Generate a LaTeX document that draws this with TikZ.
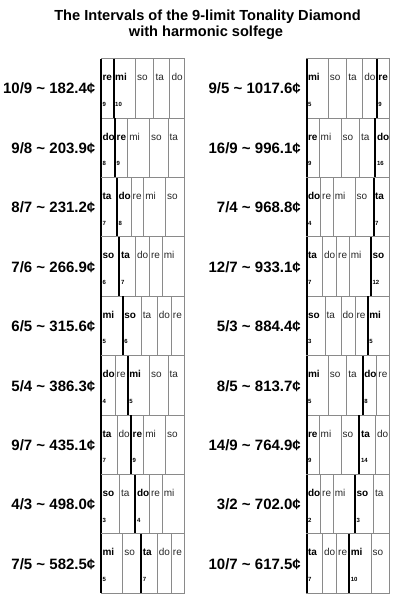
\documentclass[tikz,border=0pt]{standalone}
\usepackage{fontspec}
\setmainfont{Liberation Sans}
\definecolor{framegray}{HTML}{8A8A8A}
\def\CentsArr{{0,203.91,386.31,701.96,968.83}}
\newcommand\NoteName[1]{\ifcase#1\space do\or re\or mi\or so\or ta\fi}
\tikzset{
  cellframe/.style={draw=framegray, line width=0.9pt},
  boldline/.style={draw=black, line width=2pt},
  notebold/.style={anchor=base west, inner sep=0pt, font=\bfseries\fontsize{10}{10}\selectfont},
  notenorm/.style={anchor=base west, inner sep=0pt, text=black!85, font=\fontsize{10}{10}\selectfont},
  harm/.style={anchor=base west, inner sep=0pt, font=\bfseries\fontsize{6}{6}\selectfont},
  ratiolabel/.style={anchor=base east, inner sep=0pt, font=\bfseries\fontsize{15}{15}\selectfont},
  titletext/.style={anchor=base, inner sep=0pt, font=\bfseries\fontsize{14.6}{14.6}\selectfont},
}
% #1 id, #2 label, #3 box left x, #4 top y, #5 start note, #6 pos1, #7 num1, #8 pos2, #9 num2
\newcommand\RowBox[9]{%
  \node[ratiolabel] (lab#1) at ({#3-5.5},{#4+35.3}) {#2};
  \draw[cellframe] (#3,#4) rectangle ({#3+83},{#4+59.4});
  \foreach \i in {0,...,4}{%
    \pgfmathtruncatemacro\kidx{mod(#5+\i,5)}%
    \pgfmathsetmacro\xa{#3+mod(\CentsArr[\kidx]-\CentsArr[#5]+1200,1200)*0.0691667}%
    \ifnum\i>0 \draw[cellframe] (\xa,#4) -- (\xa,{#4+59.4});\fi
    \ifnum\i=#6\relax
      \node[notebold] (n#1-\i) at ({\xa+1.4},{#4+22}) {\NoteName{\kidx}};
      \node[harm] (h#1-\i) at ({\xa+1.4},{#4+47.5}) {#7};
    \else\ifnum\i=#8\relax
      \node[notebold] (n#1-\i) at ({\xa+1.4},{#4+22}) {\NoteName{\kidx}};
      \node[harm] (h#1-\i) at ({\xa+1.4},{#4+47.5}) {#9};
    \else
      \node[notenorm] (n#1-\i) at ({\xa+1.4},{#4+22}) {\NoteName{\kidx}};
    \fi\fi
  }%
  \pgfmathtruncatemacro\kidx{mod(#5+#6,5)}%
  \pgfmathsetmacro\xa{#3+mod(\CentsArr[\kidx]-\CentsArr[#5]+1200,1200)*0.0691667}%
  \draw[boldline] (\xa,#4) -- (\xa,{#4+59.4});
  \pgfmathtruncatemacro\kidx{mod(#5+#8,5)}%
  \pgfmathsetmacro\xa{#3+mod(\CentsArr[\kidx]-\CentsArr[#5]+1200,1200)*0.0691667}%
  \draw[boldline] (\xa,#4) -- (\xa,{#4+59.4});
}
\begin{document}
\begin{tikzpicture}[x=1pt,y=-1pt]
\useasboundingbox (0,0) rectangle (408,599);
\node[titletext] (title1) at (207.5,21) {The Intervals of the 9-limit Tonality Diamond};
\node[titletext] (title2) at (206,37) {with harmonic solfege};
% left column
\RowBox{L0}{10/9 \textasciitilde{} 182.4¢}{101}{58.7}{1}{0}{9}{1}{10}
\RowBox{L1}{9/8 \textasciitilde{} 203.9¢}{101}{118.1}{0}{0}{8}{1}{9}
\RowBox{L2}{8/7 \textasciitilde{} 231.2¢}{101}{177.5}{4}{0}{7}{1}{8}
\RowBox{L3}{7/6 \textasciitilde{} 266.9¢}{101}{236.9}{3}{0}{6}{1}{7}
\RowBox{L4}{6/5 \textasciitilde{} 315.6¢}{101}{296.3}{2}{0}{5}{1}{6}
\RowBox{L5}{5/4 \textasciitilde{} 386.3¢}{101}{355.7}{0}{0}{4}{2}{5}
\RowBox{L6}{9/7 \textasciitilde{} 435.1¢}{101}{415.1}{4}{0}{7}{2}{9}
\RowBox{L7}{4/3 \textasciitilde{} 498.0¢}{101}{474.5}{3}{0}{3}{2}{4}
\RowBox{L8}{7/5 \textasciitilde{} 582.5¢}{101}{533.9}{2}{0}{5}{2}{7}
% right column
\RowBox{R0}{9/5 \textasciitilde{} 1017.6¢}{306.5}{58.7}{2}{0}{5}{4}{9}
\RowBox{R1}{16/9 \textasciitilde{} 996.1¢}{306.5}{118.1}{1}{0}{9}{4}{16}
\RowBox{R2}{7/4 \textasciitilde{} 968.8¢}{306.5}{177.5}{0}{0}{4}{4}{7}
\RowBox{R3}{12/7 \textasciitilde{} 933.1¢}{306.5}{236.9}{4}{0}{7}{4}{12}
\RowBox{R4}{5/3 \textasciitilde{} 884.4¢}{306.5}{296.3}{3}{0}{3}{4}{5}
\RowBox{R5}{8/5 \textasciitilde{} 813.7¢}{306.5}{355.7}{2}{0}{5}{3}{8}
\RowBox{R6}{14/9 \textasciitilde{} 764.9¢}{306.5}{415.1}{1}{0}{9}{3}{14}
\RowBox{R7}{3/2 \textasciitilde{} 702.0¢}{306.5}{474.5}{0}{0}{2}{3}{3}
\RowBox{R8}{10/7 \textasciitilde{} 617.5¢}{306.5}{533.9}{4}{0}{7}{3}{10}
\end{tikzpicture}
\end{document}
